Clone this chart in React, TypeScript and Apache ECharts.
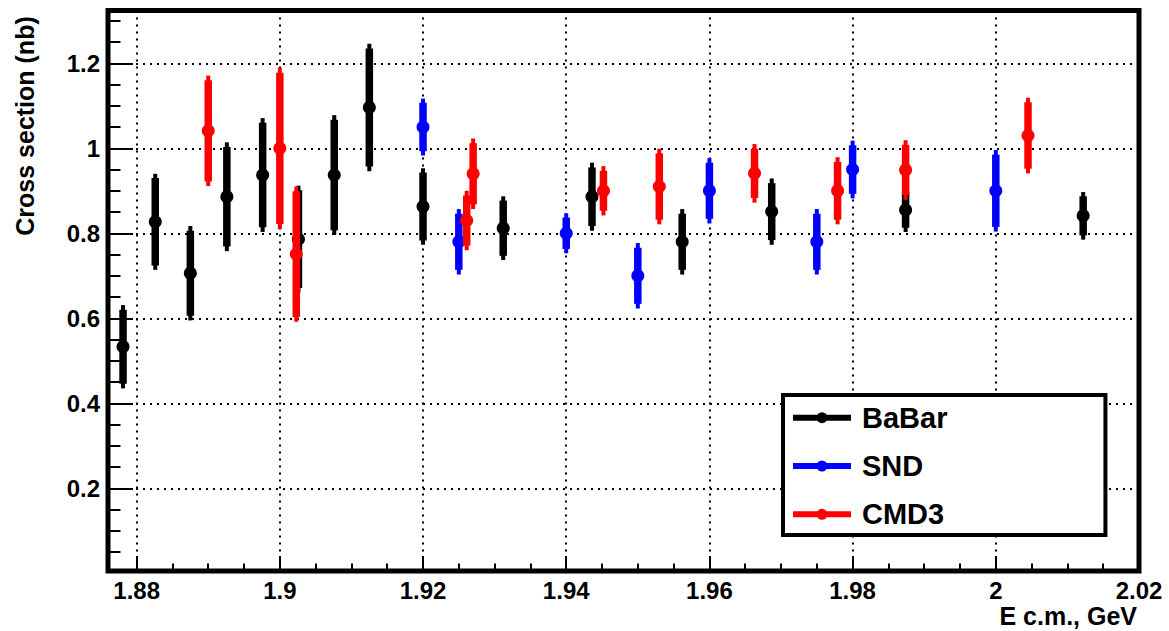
import React, { useEffect, useRef } from "react";
import * as echarts from "echarts";

const FONT = "'Liberation Sans', Arial, Helvetica, sans-serif";

// BaBar: energy (GeV), cross section (nb), total error, statistical error
const babarEnergy = [1.8781, 1.8826, 1.8875, 1.8926, 1.8976, 1.9026, 1.9076, 1.9125, 1.92, 1.9312, 1.9436, 1.9562, 1.9687, 1.9874, 2.0122];
const babarXs = [0.533, 0.827, 0.706, 0.886, 0.937, 0.786, 0.937, 1.096, 0.863, 0.812, 0.886, 0.78, 0.851, 0.855, 0.841];
const babarTotErr = [0.098, 0.113, 0.111, 0.128, 0.134, 0.126, 0.141, 0.15, 0.09, 0.075, 0.08, 0.077, 0.078, 0.052, 0.056];
const babarStatErr = [0.087, 0.103, 0.1, 0.117, 0.123, 0.115, 0.13, 0.139, 0.08, 0.065, 0.069, 0.066, 0.067, 0.042, 0.046];

// SND
const sndEnergy = [1.92, 1.925, 1.94, 1.95, 1.96, 1.975, 1.98, 2.0];
const sndXs = [1.05, 0.78, 0.8, 0.7, 0.9, 0.78, 0.95, 0.9];
const sndTotErr = [0.067, 0.077, 0.047, 0.077, 0.077, 0.077, 0.068, 0.096];
const sndStatErr = [0.057, 0.066, 0.037, 0.066, 0.066, 0.066, 0.057, 0.085];

// CMD3
const cmdEnergy = [1.89, 1.9, 1.9023, 1.9261, 1.927, 1.9452, 1.953, 1.9663, 1.9779, 1.9874, 2.0045];
const cmdXs = [1.041, 1.0, 0.751, 0.83, 0.94, 0.9, 0.91, 0.941, 0.9, 0.949, 1.03];
const cmdTotErr = [0.13, 0.19, 0.159, 0.07, 0.083, 0.058, 0.089, 0.069, 0.079, 0.07, 0.089];
const cmdStatErr = [0.119, 0.178, 0.148, 0.059, 0.072, 0.047, 0.078, 0.058, 0.068, 0.059, 0.078];

// Axis ticks
const xMajorTicks = [1.88, 1.9, 1.92, 1.94, 1.96, 1.98, 2, 2.02];
const yMajorTicks = [0.2, 0.4, 0.6, 0.8, 1, 1.2];

const X_MIN = 1.876;
const X_MAX = 2.02;
const Y_MIN = 0.0054;
const Y_MAX = 1.3242;

function subdivide(majors: number[], n: number, lo: number, hi: number): number[] {
  const step = (majors[1] - majors[0]) / n;
  const out: number[] = [];
  let v = majors[0];
  while (v - step >= lo - 1e-9) v -= step;
  for (; v <= hi + 1e-9; v += step) out.push(Math.round(v * 10000) / 10000);
  return out;
}

const xMinorTicks = subdivide(xMajorTicks, 4, X_MIN, X_MAX);
const yMinorTicks = subdivide(yMajorTicks, 4, Y_MIN, Y_MAX);

const fmt = (v: number) => String(Math.round(v * 1000) / 1000);

// Legend glyph: a thick horizontal bar with a dot in the middle (same winding so the overlap stays filled)
const LEGEND_ICON =
  "path://M0,2.5H58V8.5H0Z M23.5,5.5A5.5,5.5,0,1,1,34.5,5.5A5.5,5.5,0,1,1,23.5,5.5Z";

function errSeries(name: string, color: string, energy: number[], xs: number[], tot: number[], stat: number[]) {
  return {
    type: "custom",
    name,
    itemStyle: { color },
    xAxisIndex: 0,
    yAxisIndex: 0,
    encode: { x: 0, y: 1 },
    data: energy.map((e, i) => [e, xs[i], tot[i], stat[i]]),
    renderItem: (_params: any, api: any) => {
      const e = api.value(0);
      const v = api.value(1);
      const t = api.value(2);
      const s = api.value(3);
      const c = api.coord([e, v]);
      const tHi = api.coord([e, v + t]);
      const tLo = api.coord([e, v - t]);
      const sHi = api.coord([e, v + s]);
      const sLo = api.coord([e, v - s]);
      return {
        type: "group",
        children: [
          { type: "line", shape: { x1: c[0], y1: tHi[1], x2: c[0], y2: tLo[1] }, style: { stroke: color, lineWidth: 4 } },
          { type: "line", shape: { x1: c[0], y1: sHi[1], x2: c[0], y2: sLo[1] }, style: { stroke: color, lineWidth: 7.5 } },
          { type: "circle", shape: { cx: c[0], cy: c[1], r: 6.5 }, style: { fill: color } },
        ],
      };
    },
  };
}

export default function App() {
  const ref = useRef<HTMLDivElement>(null);

  useEffect(() => {
    if (!ref.current) return;
    const chart = echarts.init(ref.current, null, { renderer: "svg" });
    const labelStyle = { fontSize: 24, fontWeight: "bold", color: "#000", fontFamily: FONT };
    const gridLine = { show: true, lineStyle: { color: "#000", width: 2, type: [2, 5] } };

    chart.setOption({
      animation: false,
      backgroundColor: "#fff",
      textStyle: { fontFamily: FONT },
      grid: {
        left: 108,
        right: 30,
        top: 10.5,
        bottom: 60,
        show: true,
        borderColor: "#000",
        borderWidth: 5,
        backgroundColor: "transparent",
        containLabel: false,
        outerBoundsMode: "none",
      },
      xAxis: [
        {
          type: "value",
          min: X_MIN,
          max: X_MAX,
          position: "bottom",
          axisLine: { show: false, onZero: false },
          axisTick: { show: true, inside: true, length: 15, customValues: xMajorTicks, lineStyle: { color: "#000", width: 2 } },
          axisLabel: { ...labelStyle, margin: 7, customValues: xMajorTicks, formatter: fmt },
          splitLine: gridLine,
        },
        {
          type: "value",
          min: X_MIN,
          max: X_MAX,
          position: "bottom",
          axisLine: { show: false, onZero: false },
          axisTick: { show: true, inside: true, length: 7.5, customValues: xMinorTicks, lineStyle: { color: "#000", width: 2 } },
          axisLabel: { show: false },
          splitLine: { show: false },
        },
      ],
      yAxis: [
        {
          type: "value",
          min: Y_MIN,
          max: Y_MAX,
          position: "left",
          axisLine: { show: false, onZero: false },
          axisTick: { show: true, inside: true, length: 25, customValues: yMajorTicks, lineStyle: { color: "#000", width: 2 } },
          axisLabel: { ...labelStyle, margin: 8, customValues: yMajorTicks, formatter: fmt },
          splitLine: gridLine,
        },
        {
          type: "value",
          min: Y_MIN,
          max: Y_MAX,
          position: "left",
          axisLine: { show: false, onZero: false },
          axisTick: { show: true, inside: true, length: 12.5, customValues: yMinorTicks, lineStyle: { color: "#000", width: 2 } },
          axisLabel: { show: false },
          splitLine: { show: false },
        },
      ],
      legend: {
        orient: "vertical",
        left: 783,
        top: 395,
        padding: [7.7, 158, 5.7, 10],
        itemGap: 18.3,
        itemWidth: 58,
        itemHeight: 11,
        icon: LEGEND_ICON,
        borderColor: "#000",
        borderWidth: 4,
        borderRadius: 0,
        backgroundColor: "#fff",
        selectedMode: false,
        textStyle: { fontSize: 29, fontWeight: "bold", color: "#000", fontFamily: FONT, lineHeight: 30, padding: [0, 0, 0, 6] },
        data: ["BaBar", "SND", "CMD3"],
      },
      graphic: [
        {
          type: "text",
          x: 25,
          y: 126,
          rotation: Math.PI / 2,
          style: {
            text: "Cross section (nb)",
            fill: "#000",
            fontSize: 25,
            fontWeight: "bold",
            fontFamily: FONT,
            align: "center",
            verticalAlign: "middle",
          },
        },
        {
          type: "text",
          x: 1137,
          y: 616,
          style: {
            text: "E c.m., GeV",
            fill: "#000",
            fontSize: 25,
            fontWeight: "bold",
            fontFamily: FONT,
            align: "right",
            verticalAlign: "middle",
          },
        },
      ],
      series: [
        errSeries("BaBar", "#000000", babarEnergy, babarXs, babarTotErr, babarStatErr),
        errSeries("SND", "#0000ff", sndEnergy, sndXs, sndTotErr, sndStatErr),
        errSeries("CMD3", "#ff0000", cmdEnergy, cmdXs, cmdTotErr, cmdStatErr),
      ],
    });

    return () => chart.dispose();
  }, []);

  return (
    <div
      ref={ref}
      style={{ position: "fixed", left: 0, top: 0, width: 1169, height: 631, background: "#fff" }}
    />
  );
}
